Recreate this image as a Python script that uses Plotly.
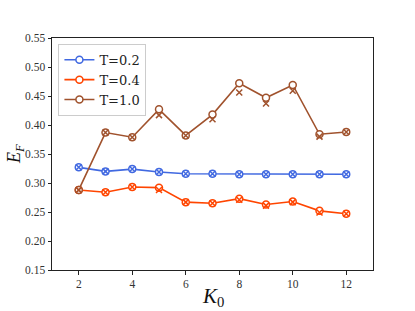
import plotly.graph_objects as go

k0 = [2, 3, 4, 5, 6, 7, 8, 9, 10, 11, 12]
labels = ["T=0.2", "T=0.4", "T=1.0"]
colors = ["#4169E1", "#FF4500", "#A0522D"]

# circle-marker series (connected by lines)
ef_t02 = [0.327, 0.320, 0.324, 0.319, 0.316, 0.316, 0.315, 0.315, 0.315, 0.315, 0.315]
ef_t04 = [0.288, 0.284, 0.293, 0.292, 0.267, 0.265, 0.273, 0.263, 0.268, 0.252, 0.247]
ef_t10 = [0.288, 0.387, 0.379, 0.427, 0.382, 0.418, 0.472, 0.447, 0.469, 0.384, 0.388]

# x-marker series
ef_t02_x = [0.327, 0.320, 0.324, 0.319, 0.316, 0.316, 0.315, 0.315, 0.315, 0.315, 0.315]
ef_t04_x = [0.288, 0.284, 0.293, 0.288, 0.267, 0.265, 0.271, 0.261, 0.267, 0.249, 0.247]
ef_t10_x = [0.288, 0.387, 0.379, 0.417, 0.382, 0.410, 0.456, 0.437, 0.459, 0.380, 0.388]

circ = [ef_t02, ef_t04, ef_t10]
crosses = [ef_t02_x, ef_t04_x, ef_t10_x]

fig = go.Figure()
for lab, col, ys in zip(labels, colors, circ):
    fig.add_trace(go.Scatter(
        x=k0, y=ys, name=lab, mode="lines+markers",
        line=dict(color=col, width=1.6),
        marker=dict(symbol="circle", size=7, color="white",
                    line=dict(color=col, width=1.5)),
    ))
for lab, col, ys in zip(labels, colors, crosses):
    fig.add_trace(go.Scatter(
        x=k0, y=ys, name=lab, mode="markers", showlegend=False,
        marker=dict(symbol="x-thin-open", size=6, color=col,
                    line=dict(color=col, width=1.5)),
    ))

font_family = "Liberation Serif, DejaVu Serif, serif"
fig.update_layout(
    width=415, height=311,
    margin=dict(l=52, r=42, t=38, b=41, autoexpand=False),
    paper_bgcolor="white", plot_bgcolor="white",
    font=dict(family=font_family, size=11.5, color="#333"),
    showlegend=True,
    legend=dict(
        x=0.02, y=0.975, xanchor="left", yanchor="top",
        bgcolor="rgba(255,255,255,0.9)", bordercolor="#cccccc", borderwidth=1,
        font=dict(family="DejaVu Serif, serif", size=13, color="#222"),
        itemwidth=30, tracegroupgap=0,
    ),
    xaxis=dict(
        range=[1, 13], tickmode="array", tickvals=[2, 4, 6, 8, 10, 12],
        showgrid=False, zeroline=False, automargin=False,
        showline=True, linecolor="#222", linewidth=1, mirror=True,
        ticks="outside", ticklen=3.5, tickwidth=0.8, tickcolor="#222",
    ),
    yaxis=dict(
        range=[0.15, 0.55], tickmode="array",
        tickvals=[0.15, 0.20, 0.25, 0.30, 0.35, 0.40, 0.45, 0.50, 0.55],
        tickformat=".2f", automargin=False,
        showgrid=False, zeroline=False,
        showline=True, linecolor="#222", linewidth=1, mirror=True,
        ticks="outside", ticklen=3.5, tickwidth=0.8, tickcolor="#222",
    ),
    annotations=[
        dict(text="<i>K</i><sub>0</sub>", xref="paper", yref="paper",
             x=0.5, y=-0.05, xanchor="center", yanchor="top", showarrow=False,
             font=dict(family=font_family, size=21, color="#111")),
        dict(text="<i>E</i><sub><i>F</i></sub>", xref="paper", yref="paper",
             x=-0.115, y=0.5, xanchor="center", yanchor="middle", showarrow=False,
             textangle=-90, font=dict(family=font_family, size=18, color="#111")),
    ],
)

fig.write_html("out.html", config={"displayModeBar": False},
               post_script="document.body.style.margin='0';document.body.style.overflow='hidden';")
